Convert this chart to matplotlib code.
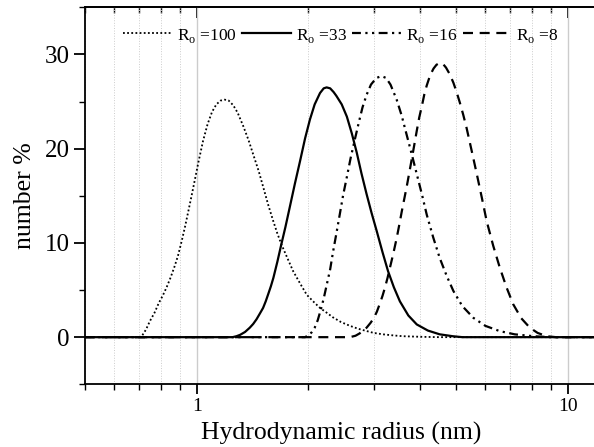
import matplotlib
matplotlib.use("Agg")
import matplotlib.pyplot as plt
from matplotlib.ticker import MultipleLocator, LogLocator, FixedLocator, FixedFormatter, NullFormatter

plt.rcParams['font.family'] = ['Liberation Serif', 'DejaVu Serif']
plt.rcParams['mathtext.fontset'] = 'custom'
plt.rcParams['mathtext.rm'] = 'Liberation Serif'

# size distributions (hydrodynamic radius in nm, number %)
r100_x = [0.5, 0.70, 0.711, 0.73, 0.748, 0.77, 0.79, 0.81, 0.83, 0.85, 0.87, 0.89,
          0.91, 0.93, 0.95, 0.97, 0.99, 1.01, 1.04, 1.07, 1.10, 1.13, 1.16, 1.19,
          1.22, 1.255, 1.29, 1.335, 1.38, 1.42, 1.47, 1.512, 1.56, 1.609, 1.65,
          1.694, 1.76, 1.82, 1.90, 1.98, 2.06, 2.15, 2.24, 2.33, 2.45, 2.59, 2.72,
          2.87, 3.0, 3.18, 3.4, 3.6, 4.0, 4.5, 12.0]
r100_y = [0, 0, 0.1, 0.8, 1.7, 2.6, 3.6, 4.4, 5.3, 6.3, 7.4, 8.6,
          10.1, 11.7, 13.4, 15.1, 16.8, 18.5, 20.8, 22.6, 23.9, 24.7, 25.1, 25.2,
          25.1, 24.6, 23.8, 22.4, 20.9, 19.4, 17.6, 15.9, 14.0, 12.3, 11.0,
          9.8, 8.3, 7.0, 5.7, 4.5, 3.8, 3.1, 2.6, 2.1, 1.6, 1.2, 0.9,
          0.65, 0.45, 0.3, 0.18, 0.1, 0.04, 0, 0]

r33_x = [0.5, 1.25, 1.28, 1.31, 1.35, 1.39, 1.42, 1.45, 1.48, 1.51, 1.535, 1.56,
         1.585, 1.61, 1.65, 1.69, 1.735, 1.78, 1.84, 1.90, 1.96, 2.02, 2.08, 2.15,
         2.20, 2.24, 2.29, 2.34, 2.38, 2.46, 2.54, 2.62, 2.70, 2.78, 2.87, 2.96,
         3.06, 3.17, 3.28, 3.40, 3.53, 3.72, 3.92, 4.2, 4.52, 4.9, 5.2, 12.0]
r33_y = [0, 0, 0.1, 0.25, 0.55, 1.0, 1.4, 1.9, 2.5, 3.1, 3.8, 4.6,
         5.4, 6.3, 8.0, 9.8, 11.7, 13.7, 16.3, 18.7, 21.1, 23.1, 24.7, 25.9,
         26.4, 26.5, 26.4, 26.0, 25.6, 24.7, 23.4, 21.6, 19.6, 17.4, 15.2, 13.2,
         11.2, 9.0, 7.0, 5.3, 3.8, 2.3, 1.35, 0.7, 0.3, 0.1, 0, 0]

r16_x = [0.5, 1.96, 2.00, 2.04, 2.08, 2.12, 2.16, 2.20, 2.24, 2.29, 2.33, 2.38,
         2.43, 2.48, 2.54, 2.60, 2.67, 2.74, 2.80, 2.87, 2.95, 3.05, 3.15, 3.24,
         3.33, 3.46, 3.57, 3.68, 3.80, 3.92, 4.05, 4.17, 4.34, 4.52, 4.72, 4.92,
         5.2, 5.57, 6.0, 6.56, 7.2, 8.1, 9.0, 12.0]
r16_y = [0, 0, 0.2, 0.5, 1.0, 1.8, 2.9, 4.1, 5.5, 7.2, 9.0, 11.0,
         13.0, 15.0, 17.0, 19.0, 21.0, 22.9, 24.4, 25.7, 26.8, 27.5, 27.7, 27.5,
         26.8, 25.2, 23.5, 21.5, 19.4, 17.3, 15.1, 13.0, 10.6, 8.4, 6.5, 4.9,
         3.3, 2.05, 1.2, 0.64, 0.3, 0.1, 0, 0]

r8_x = [0.5, 2.59, 2.68, 2.75, 2.87, 2.94, 3.0, 3.06, 3.12, 3.17, 3.22, 3.27,
        3.32, 3.39, 3.46, 3.52, 3.57, 3.62, 3.68, 3.74, 3.80, 3.86, 3.92, 3.98,
        4.05, 4.11, 4.17, 4.26, 4.35, 4.43, 4.52, 4.61, 4.70, 4.81, 4.92, 5.02,
        5.12, 5.23, 5.34, 5.51, 5.69, 5.87, 6.05, 6.30, 6.56, 6.84, 7.13, 7.5,
        7.91, 8.3, 8.78, 9.3, 12.0]
r8_y = [0, 0, 0.15, 0.4, 1.0, 1.5, 2.0, 2.7, 3.6, 4.4, 5.3, 6.3,
        7.4, 8.9, 10.5, 12.0, 13.3, 14.5, 15.9, 17.4, 18.9, 20.4, 21.9, 23.3,
        24.6, 25.8, 26.7, 27.8, 28.5, 28.9, 29.1, 29.0, 28.6, 27.9, 27.0, 26.0,
        24.9, 23.6, 22.2, 19.8, 17.3, 14.8, 12.3, 9.7, 7.4, 5.3, 3.5, 2.0,
        1.0, 0.45, 0.1, 0, 0]

labels = ['R$_\\mathrm{o}$ =100', 'R$_\\mathrm{o}$ =33', 'R$_\\mathrm{o}$ =16', 'R$_\\mathrm{o}$ =8']

fig = plt.figure(figsize=(5.94, 4.47), dpi=100)
ax = fig.add_axes([0.1431, 0.1403, 0.862, 0.8434])

ax.plot(r100_x, r100_y, color='black', lw=1.3, ls=(0, (1, 1.3)), label=labels[0])
ax.plot(r33_x, r33_y, color='black', lw=1.6, ls='-', label=labels[1])
ax.plot(r16_x, r16_y, color='black', lw=1.6, ls=(0, (4, 2, 1, 2, 1, 2)), label=labels[2])
ax.plot(r8_x, r8_y, color='black', lw=1.6, ls=(0, (4.5, 3)), label=labels[3])

ax.set_xscale('log')
ax.set_xlim(0.5, 12)
ax.set_ylim(-5, 35)

ax.xaxis.set_major_locator(FixedLocator([1, 10]))
ax.xaxis.set_major_formatter(FixedFormatter(['1', '10']))
ax.xaxis.set_minor_locator(LogLocator(base=10, subs=range(2, 10)))
ax.xaxis.set_minor_formatter(NullFormatter())
ax.yaxis.set_major_locator(FixedLocator([0, 10, 20, 30]))
ax.yaxis.set_minor_locator(MultipleLocator(5))

ax.grid(which='major', axis='x', color='#cccccc', lw=1.0, ls='-')
ax.grid(which='minor', axis='x', color='#cccccc', lw=0.7, ls=':')
ax.set_axisbelow(True)

for side in ['left', 'bottom', 'top']:
    ax.spines[side].set_linewidth(1.3)
ax.spines['right'].set_visible(False)

ax.tick_params(axis='x', which='major', bottom=True, top=False, direction='out',
               length=7, width=1.3, labelsize=14, pad=3)
ax.tick_params(axis='x', which='minor', bottom=True, top=False, direction='out',
               length=4, width=1.0)
ax.tick_params(axis='y', which='major', direction='out', length=8, width=1.3,
               labelsize=18, pad=3, right=False)
ax.tick_params(axis='y', which='minor', direction='out', length=4, width=1.0, right=False)

# inward ticks along the top edge
top = ax.secondary_xaxis('top')
top.set_xticks([1, 10])
top.xaxis.set_minor_locator(LogLocator(base=10, subs=range(2, 10)))
top.xaxis.set_minor_formatter(NullFormatter())
top.tick_params(which='major', direction='in', length=8, width=1.3, labeltop=False)
top.tick_params(which='minor', direction='in', length=4, width=1.0)
top.spines['top'].set_linewidth(1.3)

ax.set_xlabel('Hydrodynamic radius (nm)', fontsize=18.5, labelpad=5)
ax.set_ylabel('number %', fontsize=18.5, labelpad=6)

ax.legend(loc='center', bbox_to_anchor=(0.5, 0.925), ncol=4, frameon=False,
          fontsize=12.5, handlelength=2.8, handletextpad=0.3, columnspacing=0.3)

fig.savefig('out.png', dpi=100)
